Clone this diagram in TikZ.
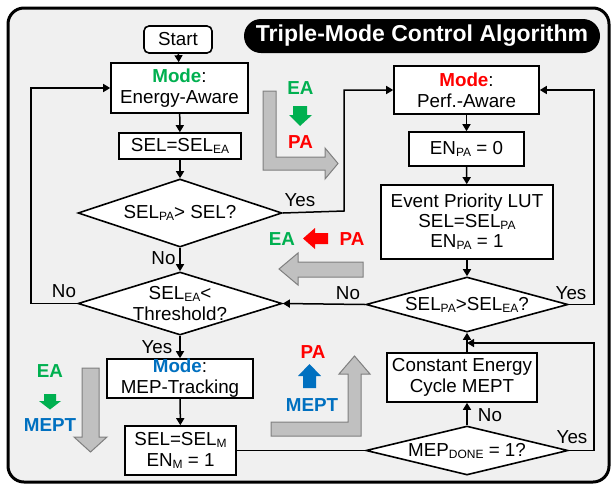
\documentclass[tikz,border=0pt]{standalone}
\usepackage{fontspec}
\setmainfont{Liberation Sans}
\usetikzlibrary{shapes.geometric,arrows.meta}
\definecolor{bgc}{HTML}{F0F0F0}
\definecolor{cgreen}{HTML}{00B050}
\definecolor{cred}{HTML}{FF0000}
\definecolor{cblue}{HTML}{0070C0}
\definecolor{gfill}{HTML}{C0C0C0}
\definecolor{gedge}{HTML}{7F7F7F}
\newcommand\sbs[1]{\raisebox{-2pt}{\fontsize{12}{12}\selectfont #1}}
\begin{document}
\begin{tikzpicture}[x=1pt,y=-1pt,
  every node/.style={font=\fontsize{18.8}{21}\selectfont, inner sep=0pt},
  box/.style={draw, line width=1.6pt, fill=white, align=center},
  dia/.style={diamond, draw, line width=1.6pt, fill=white, align=center, inner sep=-22pt, aspect=3},
  conn/.style={line width=1.5pt},
  arr/.style={conn, -{Triangle[length=7pt,width=8pt]}},
  bigarrow/.style={fill=gfill, draw=gedge, line width=1pt},
  tag/.style={font=\fontsize{18.8}{21}\selectfont\bfseries}
]
\useasboundingbox (0,0) rectangle (612,485);
% frame
\draw[line width=3pt, rounded corners=16pt, fill=bgc] (8,8) rectangle (609,482);
% title
\node[fill=black, rounded corners=17pt, minimum width=356pt, minimum height=34pt,
      text=white, font=\fontsize{23}{25}\selectfont\bfseries] (title) at (422,36) {Triple-Mode Control Algorithm};

% left column
\node[box, rounded corners=5pt, minimum width=68pt, minimum height=27pt] (start) at (178,39.5) {Start};
\node[box, minimum width=137pt, minimum height=50pt] (modeEA) at (179.5,88) {\textcolor{cgreen}{\bfseries Mode}:\\Energy-Aware};
\node[box, minimum width=122pt, minimum height=26pt] (selEA) at (180,146) {SEL=SEL\sbs{EA}};
\node[dia, minimum width=204pt, minimum height=68pt] (d1) at (180,213) {SEL\sbs{PA}> SEL?};
\node[dia, minimum width=204pt, minimum height=63pt] (d2) at (180,303.5) {SEL\sbs{EA}<\\Threshold?};
\node[box, minimum width=146pt, minimum height=39pt] (modeM) at (180,378.5) {\textcolor{cblue}{\bfseries Mode}:\\MEP-Tracking};
\node[box, minimum width=111pt, minimum height=49pt] (selM) at (180.5,450.5) {SEL=SEL\sbs{M}\\EN\sbs{M} = 1};

% right column
\node[box, minimum width=145pt, minimum height=48pt] (modePA) at (466.5,90) {\textcolor{cred}{\bfseries Mode}:\\Perf.-Aware};
\node[box, minimum width=115pt, minimum height=34pt] (enPA) at (466.5,149) {EN\sbs{PA} = 0};
\node[box, minimum width=172pt, minimum height=74pt, font=\fontsize{18.8}{20}\selectfont] (evt) at (467,222) {Event Priority LUT\\SEL=SEL\sbs{PA}\\EN\sbs{PA} = 1};
\node[dia, minimum width=202pt, minimum height=55pt] (d3) at (467,304.5) {SEL\sbs{PA}>SEL\sbs{EA}?};
\node[box, minimum width=150pt, minimum height=49pt] (cee) at (462,377.5) {Constant Energy\\Cycle MEPT};
\node[dia, minimum width=202pt, minimum height=49pt] (d4) at (467,450.5) {MEP\sbs{DONE} = 1?};

% connectors
\coordinate (lloop) at (31,303.5);
\coordinate (yes1) at (344,211);
\coordinate (rloop) at (594,304.5);
\coordinate (bloop) at (594,450.5);
\coordinate (join) at (467,343);

\draw[arr] (start) -- (modeEA);
\draw[arr] (modeEA) -- (selEA);
\draw[arr] (selEA) -- (d1);
\draw[arr] (d1) -- (d2);
\draw[arr] (d2.west) -- (lloop) |- (modeEA.west);
\draw[arr] (d1.east) -- (yes1) |- (modePA.west);
\draw[arr] (modePA) -- (enPA);
\draw[arr] (enPA) -- (evt);
\draw[arr] (evt) -- (d3);
\draw[arr] (d3.west) -- (d2.east);
\draw[arr] (d3.east) -- (rloop) |- (modePA.east);
\draw[arr] (d2) -- (modeM);
\draw[arr] (modeM) -- (selM);
\draw[conn] (selM.east) -- (d4.west);
\draw[arr] (d4.north) -- (d4.north |- cee.south);
\draw[arr] (d4.north |- cee.north) -- (d3.south);
\draw[arr] (d4.east) -- (bloop) |- (join);

% connector labels
\node (l1) at (300,200) {Yes};
\node (l2) at (163.5,258) {No};
\node (l3) at (64,291) {No};
\node (l4) at (348,293) {No};
\node (l5) at (571,293) {Yes};
\node (l6) at (157,347) {Yes};
\node (l7) at (490,415) {No};
\node (l8) at (572,437) {Yes};

% big gray arrows
\draw[bigarrow] (263,91) -- (276,91) -- (276,157) -- (325,157) -- (325,148) -- (338,163.5) -- (325,179) -- (325,170) -- (263,170) -- cycle;
\draw[bigarrow] (363,262) -- (298,262) -- (298,253) -- (279,269) -- (298,285) -- (298,277) -- (363,277) -- cycle;
\draw[bigarrow] (82,368) -- (99,368) -- (99,437) -- (107,437) -- (90.5,452) -- (74,437) -- (82,437) -- cycle;
\draw[bigarrow] (271,422) -- (348,422) -- (348,374) -- (339,374) -- (354.5,356) -- (370,374) -- (361,374) -- (361,436) -- (271,436) -- cycle;

% mode transition tags
\node[tag, text=cgreen] (t1) at (300.5,88) {EA};
\node[tag, text=cred] (t2) at (300.5,142) {PA};
\fill[cgreen] (293,106) -- (307,106) -- (307,115) -- (312,115) -- (300,126) -- (289,115) -- (293,115) -- cycle;

\node[tag, text=cgreen] (t3) at (282,239) {EA};
\node[tag, text=cred] (t4) at (352,239) {PA};
\fill[cred] (328,233) -- (315,233) -- (315,228) -- (303,238.5) -- (315,249) -- (315,244) -- (328,244) -- cycle;

\node[tag, text=cgreen] (t5) at (50,371) {EA};
\node[tag, text=cblue] (t6) at (50,425) {MEPT};
\fill[cgreen] (44,394) -- (56,394) -- (56,401) -- (61,401) -- (50,409.5) -- (39,401) -- (44,401) -- cycle;

\node[tag, text=cred] (t7) at (313,352) {PA};
\node[tag, text=cblue] (t8) at (312,405) {MEPT};
\fill[cblue] (303,388) -- (316,388) -- (316,376) -- (321,376) -- (309.5,364) -- (298,376) -- (303,376) -- cycle;
\end{tikzpicture}
\end{document}
